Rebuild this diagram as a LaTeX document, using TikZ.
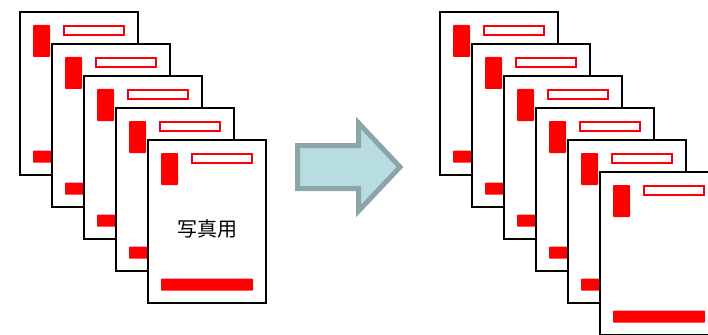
\documentclass[tikz,border=0pt]{standalone}
\usepackage{fontspec}
\newfontfamily\cjk{Noto Sans CJK JP}
\definecolor{docred}{HTML}{FF0000}
\definecolor{arrowfill}{HTML}{B7DDE0}
\definecolor{arrowline}{HTML}{8CA6A8}
\tikzset{
  pagebox/.style={draw=black, fill=white, line width=2.3pt, minimum width=118pt, minimum height=163pt, anchor=north west, inner sep=0pt, outer sep=0pt},
  redblock/.style={fill=docred, rounded corners=0.8pt},
  redframe/.style={draw=docred, line width=2pt, fill=white},
  bigarrow/.style={draw=arrowline, fill=arrowfill, line width=5pt, line join=miter}
}
\newcommand\docpage[4]{%
  \node[pagebox] (#1) at (#2,#3) {};
  \fill[redblock] ([shift={(13pt,-13pt)}]#1.north west) rectangle ([shift={(30pt,-45pt)}]#1.north west);
  \draw[redframe] ([shift={(44.3pt,-13.7pt)}]#1.north west) rectangle ([shift={(104pt,-22.7pt)}]#1.north west);
  \fill[redblock] ([shift={(13pt,-138.6pt)}]#1.north west) rectangle ([shift={(105pt,-150.6pt)}]#1.north west);
  \node[font=\cjk\fontsize{20pt}{24pt}\selectfont, inner sep=0pt] (#1text) at ([shift={(59pt,-89pt)}]#1.north west) {#4};
}
\begin{document}
\begin{tikzpicture}[x=1pt,y=-1pt]
\useasboundingbox (0,0) rectangle (708,334);
\clip (0,0) rectangle (708,334);
% left stack
\docpage{L1}{20}{12}{}
\docpage{L2}{52}{44}{}
\docpage{L3}{84}{76}{}
\docpage{L4}{116}{108}{}
\docpage{L5}{148}{140}{写真用}
% arrow
\draw[bigarrow] (297.5,145.5) -- (358.5,145.5) -- (358.5,123) -- (400,167) -- (358.5,211) -- (358.5,188.5) -- (297.5,188.5) -- cycle;
% right stack
\docpage{R1}{440}{12}{}
\docpage{R2}{472}{44}{}
\docpage{R3}{504}{76}{}
\docpage{R4}{536}{108}{}
\docpage{R5}{568}{140}{}
\docpage{R6}{600}{172}{}
\end{tikzpicture}
\end{document}
